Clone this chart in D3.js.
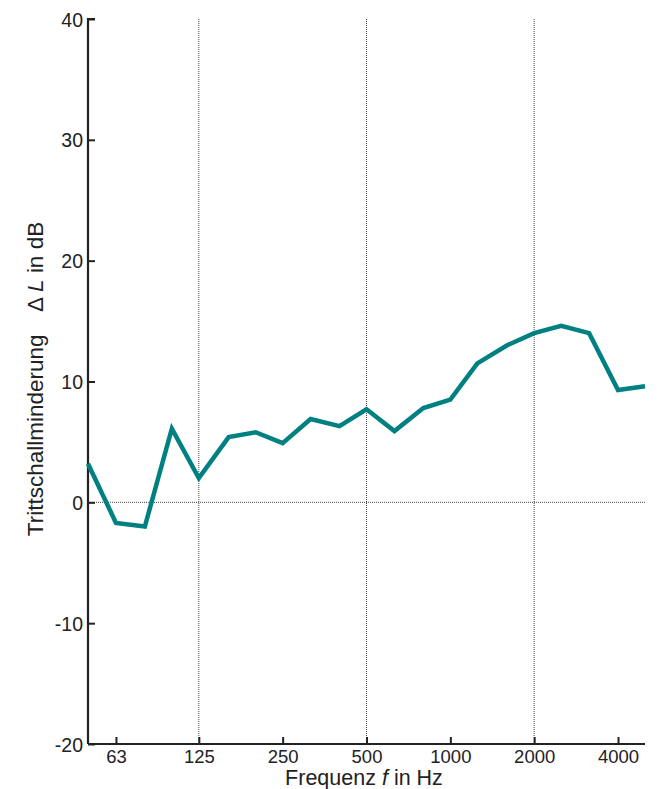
<!DOCTYPE html>
<html>
<head>
<meta charset="utf-8">
<script src="https://cdn.jsdelivr.net/npm/d3@7"></script>
<style>
  html, body { margin: 0; padding: 0; background: #fff; }
  svg { display: block; }
  text { font-family: "Liberation Sans", Arial, Helvetica, sans-serif; fill: #222; }
</style>
</head>
<body>
<svg id="chart" width="661" height="789"></svg>
<script>
// Third-octave band centre frequencies (Hz)
const frequencies = [50, 63, 80, 100, 125, 160, 200, 250, 315, 400, 500, 630, 800, 1000, 1250, 1600, 2000, 2500, 3150, 4000, 5000];
// Impact sound reduction ΔL (dB)
const reduction = [3.2, -1.7, -2.0, 6.1, 2.0, 5.4, 5.8, 4.9, 6.9, 6.3, 7.7, 5.9, 7.8, 8.5, 11.5, 13.0, 14.0, 14.6, 14.0, 9.3, 9.6];
// Axis ticks
const xTickValues = [63, 125, 250, 500, 1000, 2000, 4000];
const yTickValues = [-20, -10, 0, 10, 20, 30, 40];
// Octave bands marked with a vertical guide line
const xGuides = [125, 500, 2000];

const svg = d3.select("#chart");
const margin = { left: 88, right: 16, top: 19, bottom: 45 };
const W = 661, H = 789;

const x = d3.scaleLog().domain([50, 5000]).range([margin.left, W - margin.right]);
const y = d3.scaleLinear().domain([-20, 40]).range([H - margin.bottom, margin.top]);

const ink = "#222";

// Dotted guide lines
const guides = svg.append("g")
  .attr("stroke", "#444").attr("stroke-width", 1).attr("stroke-dasharray", "1,1");
guides.selectAll("line.v").data(xGuides).join("line")
  .attr("class", "v")
  .attr("x1", d => x(d)).attr("x2", d => x(d))
  .attr("y1", y(40)).attr("y2", y(-20));
guides.append("line")
  .attr("x1", x(50)).attr("x2", x(5000))
  .attr("y1", y(0)).attr("y2", y(0));

// Y axis (ticks pointing inward)
const yAxis = svg.append("g")
  .attr("transform", `translate(${margin.left},0)`)
  .call(d3.axisRight(y).tickValues(yTickValues).tickSize(7).tickFormat(d => String(d)));
yAxis.select(".domain").attr("stroke", ink).attr("stroke-width", 2.2)
  .attr("d", `M7,${y(40)}H0V${y(-20)}`);
yAxis.selectAll(".tick line").attr("stroke", ink).attr("stroke-width", 2);
yAxis.selectAll(".tick text")
  .attr("x", -5).attr("dy", "0.36em").attr("text-anchor", "end")
  .style("font-size", "19.5px").attr("fill", ink);

// X axis (ticks pointing inward)
const xAxis = svg.append("g")
  .attr("transform", `translate(0,${y(-20)})`)
  .call(d3.axisTop(x).tickValues(xTickValues).tickSize(7).tickFormat(d => String(d)));
xAxis.select(".domain").attr("stroke", ink).attr("stroke-width", 2.2)
  .attr("d", `M${x(50)},0H${x(5000)}`);
xAxis.selectAll(".tick line").attr("stroke", ink).attr("stroke-width", 2);
xAxis.selectAll(".tick text")
  .attr("y", 19).attr("dy", 0).attr("text-anchor", "middle")
  .style("font-size", "18.5px").attr("fill", ink);

// Axis titles
const xTitle = svg.append("text")
  .attr("x", 364).attr("y", 785)
  .attr("text-anchor", "middle")
  .style("font-size", "21.5px");
xTitle.append("tspan").text("Frequenz ");
xTitle.append("tspan").style("font-style", "italic").text("f");
xTitle.append("tspan").text(" in Hz");

const yTitle = svg.append("text")
  .attr("transform", "translate(43,379) rotate(-90)")
  .attr("text-anchor", "middle")
  .style("font-size", "22.5px");
yTitle.append("tspan").text("Trittschallminderung\u2003\u0394 ");
yTitle.append("tspan").style("font-style", "italic").text("L");
yTitle.append("tspan").text(" in dB");

// Data line
const line = d3.line()
  .x((d, i) => x(frequencies[i]))
  .y(d => y(d));
svg.append("path")
  .datum(reduction)
  .attr("fill", "none")
  .attr("stroke", "#008080")
  .attr("stroke-width", 4.5)
  .attr("stroke-linejoin", "miter")
  .attr("d", line);
</script>
</body>
</html>
